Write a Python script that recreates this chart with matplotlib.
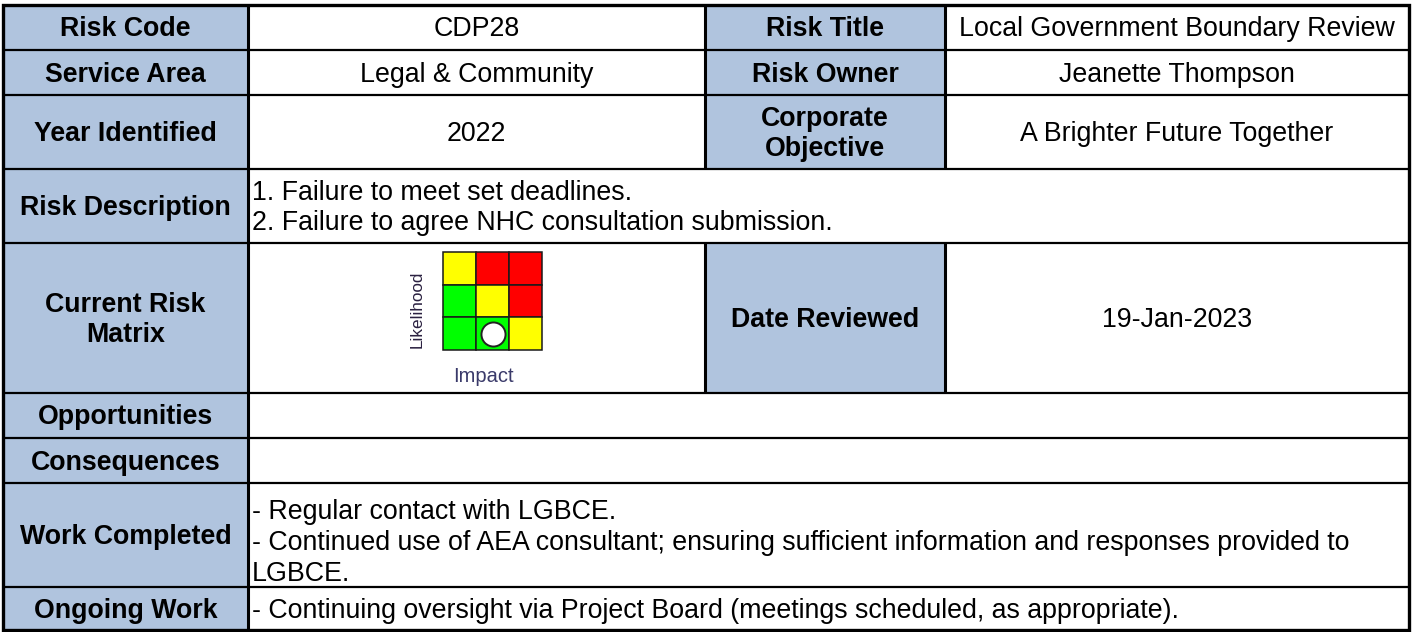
import matplotlib.pyplot as plt
from matplotlib.patches import Rectangle

plt.rcParams['font.family'] = ['Liberation Sans', 'DejaVu Sans']

# table content
row_labels = ["Risk Code", "Service Area", "Year Identified", "Risk Description",
              "Current Risk\nMatrix", "Opportunities", "Consequences",
              "Work Completed", "Ongoing Work"]
row_values = ["CDP28", "Legal & Community", "2022", None, None, None, None, None, None]
right_labels = ["Risk Title", "Risk Owner", "Corporate\nObjective", None, "Date Reviewed"]
right_values = ["Local Government Boundary Review", "Jeanette Thompson",
                "A Brighter Future Together", None, "19-Jan-2023"]
wide_text = {
    3: "1. Failure to meet set deadlines.\n2. Failure to agree NHC consultation submission.",
    5: "",
    6: "",
    7: "- Regular contact with LGBCE.\n- Continued use of AEA consultant; ensuring sufficient information and responses provided to\nLGBCE.",
    8: "- Continuing oversight via Project Board (meetings scheduled, as appropriate).",
}

# risk matrix (rows top -> bottom = high -> low likelihood, cols = impact)
matrix_colors = [["#FFFF00", "#FF0000", "#FF0000"],
                 ["#00FF00", "#FFFF00", "#FF0000"],
                 ["#00FF00", "#00FF00", "#FFFF00"]]
current_impact = 2
current_likelihood = 1

# layout (pixels)
W, H = 1416, 632
row_edges = [5, 50, 95, 169, 243, 393, 438, 483, 587, 630]
col_edges = [3, 248, 705, 945, 1409]
blue = "#B0C4DE"
fs = 19.3
ls = 1.24

fig = plt.figure(figsize=(W / 100, H / 100), dpi=100)
ax = fig.add_axes([0, 0, 1, 1])
ax.set_xlim(0, W)
ax.set_ylim(H, 0)
ax.axis("off")

for i, lab in enumerate(row_labels):
    y0, y1 = row_edges[i], row_edges[i + 1]
    yc = (y0 + y1) / 2
    ax.add_patch(Rectangle((col_edges[0], y0), col_edges[1] - col_edges[0], y1 - y0,
                           facecolor=blue, edgecolor="none"))
    ax.text((col_edges[0] + col_edges[1]) / 2, yc + 2, lab, ha="center", va="center",
            fontsize=fs, fontweight="bold", linespacing=ls)
    has_right = i < len(right_labels) and right_labels[i] is not None
    if has_right:
        ax.add_patch(Rectangle((col_edges[2], y0), col_edges[3] - col_edges[2], y1 - y0,
                               facecolor=blue, edgecolor="none"))
        ax.text((col_edges[2] + col_edges[3]) / 2, yc + 2, right_labels[i], ha="center",
                va="center", fontsize=fs, fontweight="bold", linespacing=ls)
        ax.text((col_edges[3] + col_edges[4]) / 2, yc + 2, right_values[i], ha="center",
                va="center", fontsize=fs)
        ax.plot([col_edges[2], col_edges[2]], [y0, y1], color="black", lw=2.2,
                solid_capstyle="butt")
        ax.plot([col_edges[3], col_edges[3]], [y0, y1], color="black", lw=2.2,
                solid_capstyle="butt")
    if row_values[i] is not None:
        ax.text((col_edges[1] + col_edges[2]) / 2, yc + 2, row_values[i], ha="center",
                va="center", fontsize=fs)
    if i in wide_text:
        yt = yc + (8 if i == 7 else 2)
        ax.text(col_edges[1] + 4, yt, wide_text[i], ha="left", va="center",
                fontsize=fs, linespacing=ls)
    if i > 0:
        ax.plot([col_edges[0], col_edges[-1]], [y0, y0], color="black", lw=1.6,
                solid_capstyle="butt")

# first column divider and outer frame
ax.plot([col_edges[1], col_edges[1]], [row_edges[0], row_edges[-1]], color="black",
        lw=2.2, solid_capstyle="butt")
ax.add_patch(Rectangle((col_edges[0], row_edges[0]), col_edges[-1] - col_edges[0],
                       row_edges[-1] - row_edges[0], facecolor="none",
                       edgecolor="black", lw=2.4))

# inset risk matrix
mx0, my0, mw, mh = 443, 252, 99, 98
mat = fig.add_axes([mx0 / W, 1 - (my0 + mh) / H, mw / W, mh / H])
mat.set_xlim(0, 3)
mat.set_ylim(0, 3)
mat.axis("off")
for r, row in enumerate(matrix_colors):
    for c, col in enumerate(row):
        mat.add_patch(Rectangle((c, 2 - r), 1, 1, facecolor=col, edgecolor="#1a1a1a",
                                lw=1.1, clip_on=False))
mat.scatter([current_impact - 0.5], [current_likelihood - 0.5], s=300, c="white",
            edgecolors="#222222", linewidths=1.4, zorder=5, clip_on=False)
ax.text(417, 309, "Likelihood", rotation=90, ha="center", va="center",
        fontsize=12.3, color="#2a2040")
ax.text(483, 377, "Impact", ha="center", va="center", fontsize=14.5, color="#3a3a6a")

fig.savefig("out.png", dpi=100)
